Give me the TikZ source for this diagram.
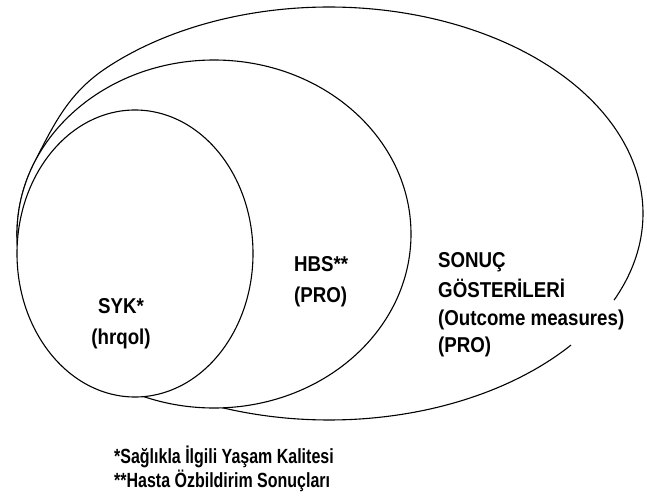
\documentclass[tikz,border=0pt]{standalone}
\usepackage{fontspec}
\setmainfont{Liberation Sans}
\newfontfamily\labfont[FakeStretch=0.87]{Liberation Sans Bold}
\newfontfamily\notefont[FakeStretch=0.78]{Liberation Sans Bold}
\begin{document}
\begin{tikzpicture}[x=1pt,y=-1pt,
  edge/.style={line width=1.1pt, draw=black},
  ring/.style={line width=1.1pt, draw=black, fill=white},
  lab/.style={font=\labfont\fontsize{21.5}{24}\selectfont, inner sep=0pt, anchor=base west},
  labc/.style={font=\labfont\fontsize{21.5}{24}\selectfont, inner sep=0pt, anchor=base},
  note/.style={font=\notefont\fontsize{20.5}{23}\selectfont, inner sep=0pt, anchor=base west}]
\useasboundingbox (0,0) rectangle (647,497);

% outer region (its lower-left part is hidden by the middle one)
\draw[edge, line join=round]
  plot[domain=39.6:125, samples=80] ({329+314*cos(\x)},{213.5+206.5*sin(\x)})
  -- plot[domain=175:204, samples=20] ({214+197*cos(\x)},{234+174*sin(\x)})
  .. controls (54.3,123) and (69.4,92.2) .. (107,67.5)
  -- plot[domain=225:384.8, samples=200] ({329+314*cos(\x)},{213.5+206.5*sin(\x)});

% middle region
\draw[ring] (214,234) ellipse [x radius=197, y radius=174];

% inner region
\draw[ring] (135,253.5) ellipse [x radius=118, y radius=143.5];

% labels
\node[labc] (syk) at (121,313) {SYK*};
\node[labc] (hrqol) at (121,344) {(hrqol)};

\node[lab] (hbs) at (294,271.5) {HBS**};
\node[lab] (hbspro) at (294,302) {(PRO)};

\node[lab] (s1) at (438,267) {SONUÇ};
\node[lab] (s2) at (438,297) {GÖSTERİLERİ};
\node[lab] (s3) at (438,325) {(Outcome measures)};
\node[lab] (s4) at (438,352) {(PRO)};

\node[note] (n1) at (114,463) {*Sağlıkla İlgili Yaşam Kalitesi};
\node[note] (n2) at (114,487) {**Hasta Özbildirim Sonuçları};
\end{tikzpicture}
\end{document}
